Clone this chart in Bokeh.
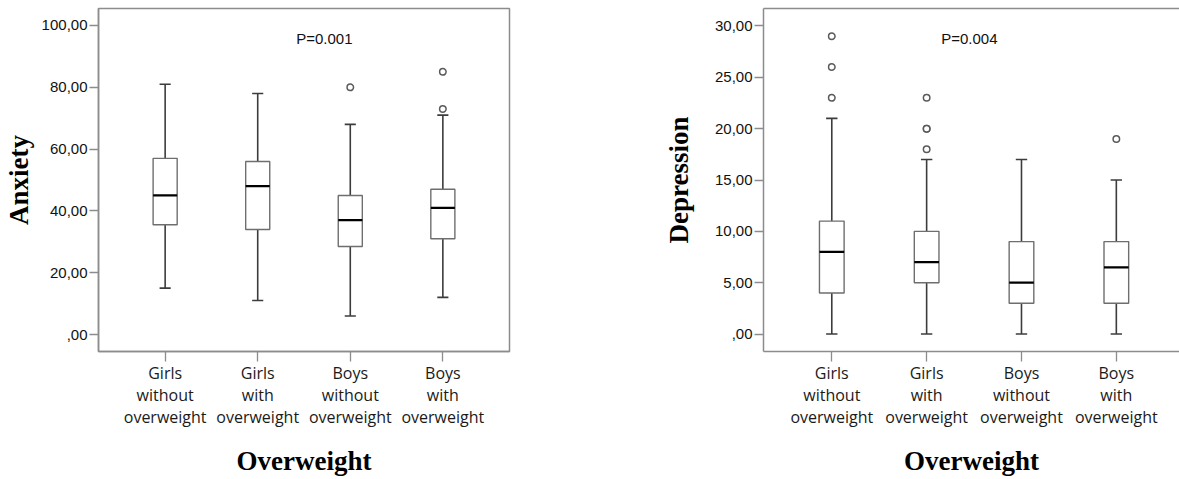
import numpy as np
from bokeh.plotting import figure
from bokeh.models import Range1d, FixedTicker, LinearAxis, Label
from bokeh.layouts import row
from bokeh.embed import file_html
from bokeh.resources import INLINE

# ---------------- data ----------------
categories = ["Girls\nwithout\noverweight", "Girls\nwith\noverweight",
              "Boys\nwithout\noverweight", "Boys\nwith\noverweight"]

anx_low = [15, 11, 6, 12]
anx_q1 = [35.5, 34, 28.5, 31]
anx_med = [45, 48, 37, 41]
anx_q3 = [57, 56, 45, 47]
anx_high = [81, 78, 68, 71]
anx_out_group = [3, 4, 4]
anx_out_value = [80, 85, 73]
anx_ticks = [0, 20, 40, 60, 80, 100]
anx_tick_labels = [",00", "20,00", "40,00", "60,00", "80,00", "100,00"]
anx_p = "P=0.001"

dep_low = [0, 0, 0, 0]
dep_q1 = [4, 5, 3, 3]
dep_med = [8, 7, 5, 6.5]
dep_q3 = [11, 10, 9, 9]
dep_high = [21, 17, 17, 15]
dep_out_group = [1, 1, 1, 2, 2, 2, 2, 4]
dep_out_value = [29, 26, 23, 23, 20, 20, 18, 19]
dep_ticks = [0, 5, 10, 15, 20, 25, 30]
dep_tick_labels = [",00", "5,00", "10,00", "15,00", "20,00", "25,00", "30,00"]
dep_p = "P=0.004"

FRAME = "#8c8c8c"
TICKFONT = "Liberation Sans"
SERIF = "Liberation Serif"


def make_panel(width, border_left, border_right, x_end, y_range, ticks, tick_labels,
               ylabel, ylabel_standoff, low, q1, med, q3, high, out_g, out_v,
               ptext, px, py, outline):
    p = figure(width=width, height=479, x_range=Range1d(0.28, x_end), y_range=y_range,
               min_border_left=border_left, min_border_right=border_right,
               min_border_top=8, min_border_bottom=128,
               output_backend="svg", toolbar_location=None)
    p.xgrid.visible = False
    p.ygrid.visible = False
    p.background_fill_color = "white"
    p.border_fill_color = "white"

    xs = np.arange(1, len(categories) + 1)

    # y axis
    ya = p.left[0]
    ya.ticker = FixedTicker(ticks=ticks)
    ya.major_label_overrides = {t: l for t, l in zip(ticks, tick_labels)}
    ya.major_tick_out = 9
    ya.major_tick_in = 0
    ya.minor_tick_line_color = None
    ya.major_tick_line_color = FRAME
    ya.major_tick_line_width = 1.3
    ya.axis_line_color = FRAME
    ya.axis_line_width = 1.5
    ya.major_label_standoff = 2
    ya.major_label_text_font = TICKFONT
    ya.major_label_text_font_size = "15px"
    ya.major_label_text_color = "#111111"
    ya.axis_label = ylabel
    ya.axis_label_text_font = SERIF
    ya.axis_label_text_font_style = "bold"
    ya.axis_label_text_font_size = "27px"
    ya.axis_label_text_color = "black"
    ya.axis_label_standoff = ylabel_standoff

    # x axis
    xa = p.below[0]
    xa.ticker = FixedTicker(ticks=list(xs))
    xa.major_label_overrides = {int(i): c for i, c in zip(xs, categories)}
    xa.major_tick_out = 10
    xa.major_tick_in = 0
    xa.minor_tick_line_color = None
    xa.major_tick_line_color = FRAME
    xa.major_tick_line_width = 1.3
    xa.axis_line_color = FRAME
    xa.axis_line_width = 1.5
    xa.major_label_standoff = 0
    xa.major_label_text_font = "Open Sans"
    xa.major_label_text_font_size = "16px"
    xa.major_label_text_color = "#1a1a1a"
    xa.major_label_text_line_height = 1.0
    xa.axis_label = "Overweight"
    xa.axis_label_text_font = SERIF
    xa.axis_label_text_font_style = "bold"
    xa.axis_label_text_font_size = "27px"
    xa.axis_label_text_color = "black"
    xa.axis_label_standoff = 15

    if outline:
        p.outline_line_color = FRAME
        p.outline_line_width = 1.5
    else:
        p.outline_line_color = None
        top = LinearAxis(ticker=FixedTicker(ticks=[]), major_tick_out=0, major_tick_in=0,
                         minor_tick_out=0, minor_tick_in=0,
                         major_label_standoff=0, axis_line_color=FRAME, axis_line_width=1.5,
                         major_label_text_font_size="0px")
        p.add_layout(top, "above")

    bw = 0.26
    cw = 0.06
    # whiskers
    p.segment(x0=xs, y0=q3, x1=xs, y1=high, line_color="#3c3c3c", line_width=1.6)
    p.segment(x0=xs, y0=q1, x1=xs, y1=low, line_color="#3c3c3c", line_width=1.6)
    p.segment(x0=xs - cw, y0=high, x1=xs + cw, y1=high, line_color="#3c3c3c", line_width=1.6)
    p.segment(x0=xs - cw, y0=low, x1=xs + cw, y1=low, line_color="#3c3c3c", line_width=1.6)
    # boxes
    p.vbar(x=xs, bottom=q1, top=q3, width=bw, fill_color="white",
           line_color="#6e6e6e", line_width=1.4)
    # medians
    p.segment(x0=xs - bw / 2, y0=med, x1=xs + bw / 2, y1=med, line_color="black", line_width=2.2)
    # outliers
    p.scatter(x=out_g, y=out_v, marker="circle", size=6.5, fill_color="white",
              line_color="#5a5a5a", line_width=1.5)

    p.add_layout(Label(x=px, y=py, text=ptext, text_align="center", text_baseline="middle",
                       text_font=TICKFONT, text_font_size="15px", text_color="#111111"))
    return p


p1 = make_panel(660, 96, 151, 4.72, Range1d(-5.5, 105.5), anx_ticks, anx_tick_labels,
                "Anxiety", 5, anx_low, anx_q1, anx_med, anx_q3, anx_high,
                anx_out_group, anx_out_value, anx_p, 2.72, 95.9, True)
p2 = make_panel(519, 101, 0, 4.666, Range1d(-1.7, 31.7), dep_ticks, dep_tick_labels,
                "Depression", 18, dep_low, dep_q1, dep_med, dep_q3, dep_high,
                dep_out_group, dep_out_value, dep_p, 2.45, 28.8, False)

layout = row(p1, p2)
open("out.html", "w").write(file_html(layout, INLINE))
